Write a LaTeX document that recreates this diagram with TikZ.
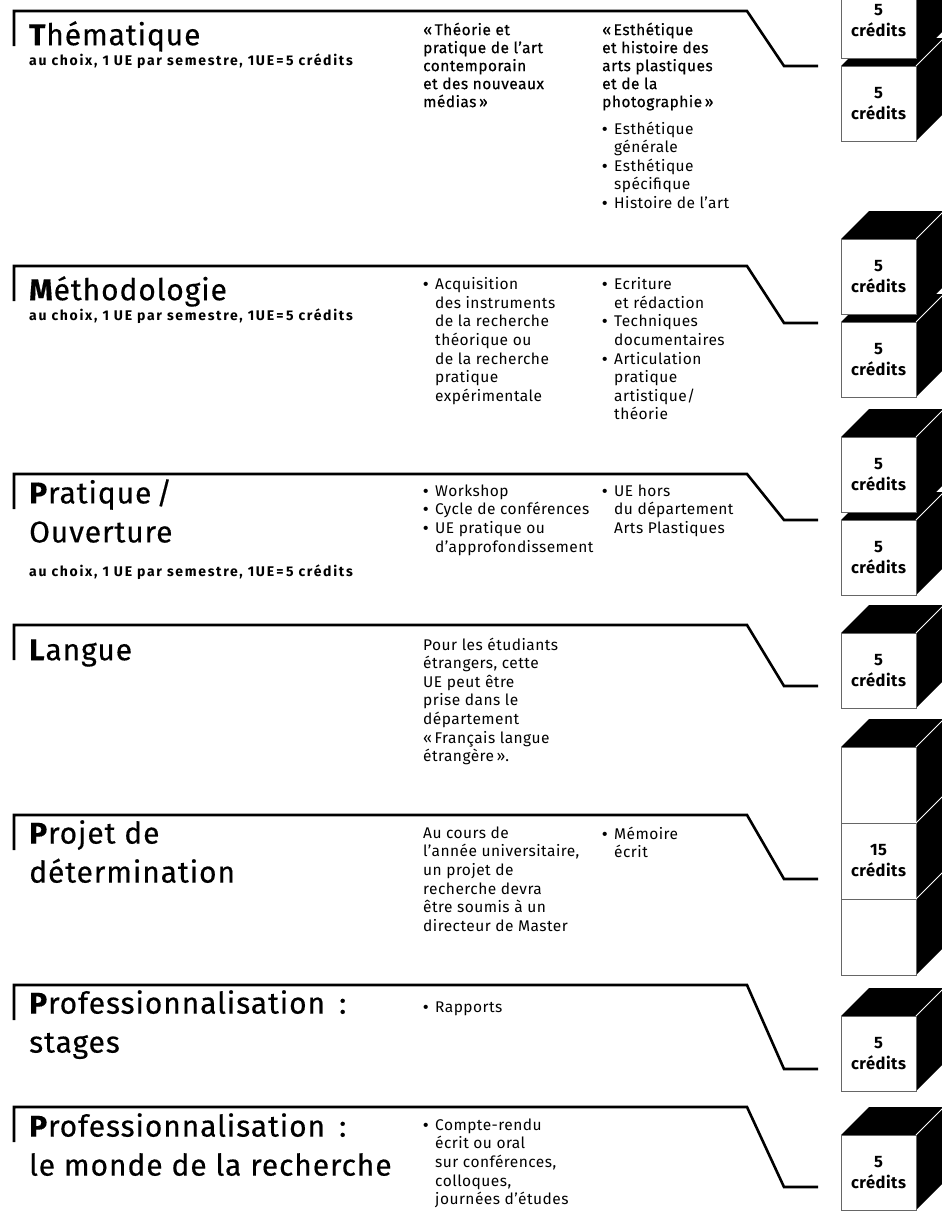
\documentclass[tikz,border=0pt]{standalone}
\usepackage{fontspec}
\setmainfont{Fira Sans}[LetterSpace=3]
\newfontfamily\medfont[FakeBold=0.5,LetterSpace=3]{Fira Sans}
\newfontfamily\titrefont[FakeBold=0.4,LetterSpace=3]{Fira Sans}
\newfontfamily\soufont[LetterSpace=12]{Fira Sans}
\newfontfamily\pucefont{Liberation Sans}

% puces et retraits
\newcommand{\puce}{\makebox[12pt][l]{\pucefont •}}
\newcommand{\retrait}{\hspace*{12pt}}

% cube de crédits : nom, x, y (haut de la face), hauteur, texte
\newcommand{\credcube}[5]{%
  \fill[black] (#2,#3) -- ++(28,-28) -- ++(75,0) -- ++(0,#4) -- ++(-28,28) -- ++(-75,0) -- cycle;
  \draw[arete] (#2+75,#3) -- ++(28,-28);
  \draw[face] (#2,#3) rectangle ++(75,#4);
  \node[credit] (#1) at (#2+37.5,#3+#4/2) {#5};
}

\tikzset{
  trait/.style={line width=2.6pt, line join=miter, line cap=butt},
  titre/.style={anchor=north west, inner sep=0pt, align=left, yshift=30pt,
    execute at begin node={\rule{0pt}{30pt}}, font=\titrefont\fontsize{30}{39}\selectfont},
  soustitre/.style={anchor=base west, inner sep=0pt, font=\soufont\bfseries\fontsize{14}{16}\selectfont},
  texte/.style={anchor=north west, inner sep=0pt, align=left, yshift=15.5pt,
    execute at begin node={\rule{0pt}{15.5pt}}, font=\fontsize{15.5}{18.6}\selectfont},
  textemed/.style={texte, font=\medfont\fontsize{15.5}{18}\selectfont},
  credit/.style={align=center, inner sep=0pt, font=\bfseries\fontsize{16.5}{21}\selectfont},
  face/.style={fill=white, draw=black!60, line width=1pt},
  arete/.style={white, line width=0.8pt},
}

\begin{document}
\begin{tikzpicture}[x=1pt,y=-1pt]
\useasboundingbox (0,0) rectangle (942,1211);

% Thématique
\draw[trait] (14,46) -- (14,11) -- (747,11) -- (784,66) -- (818,66);
\node[titre] (them) at (29,45) {\textbf{T}hématique};
\node[soustitre] (themsous) at (29,65) {au choix, 1 UE par semestre, 1UE\,=\,5 crédits};
\node[textemed] (themA) at (423,38) {«\,Théorie et\\pratique de l’art\\contemporain\\et des nouveaux\\médias\,»};
\node[textemed] (themB) at (602,38) {«\,Esthétique\\et histoire des\\arts plastiques\\et de la\\photographie\,»};
\node[texte] (themC) at (602,137) {\puce Esthétique\\\retrait générale\\\puce Esthétique\\\retrait spécifique\\\puce Histoire de l’art};
\credcube{cthemb}{841}{66}{75}{5\\crédits}
\credcube{cthema}{841}{-17}{75}{5\\crédits}

% Méthodologie
\draw[trait] (14,301) -- (14,266) -- (747,266) -- (784,323) -- (818,323);
\node[titre] (meth) at (29,300) {\textbf{M}éthodologie};
\node[soustitre] (methsous) at (29,320) {au choix, 1 UE par semestre, 1UE\,=\,5 crédits};
\node[texte] (methA) at (423,293) {\puce Acquisition\\\retrait des instruments\\\retrait de la recherche\\\retrait théorique ou\\\retrait de la recherche\\\retrait pratique\\\retrait expérimentale};
\node[texte] (methB) at (602,293) {\puce Ecriture\\\retrait et rédaction\\\puce Techniques\\\retrait documentaires\\\puce Articulation\\\retrait pratique\\\retrait artistique/\\\retrait théorie};
\credcube{cmethb}{841}{322}{75}{5\\crédits}
\credcube{cmetha}{841}{239}{75}{5\\crédits}

% Pratique / Ouverture
\draw[trait] (14,509) -- (14,474) -- (747,474) -- (784,520) -- (818,520);
\node[titre] (prat) at (29,509) {\textbf{P}ratique\,/\\Ouverture};
\node[soustitre] (pratsous) at (29,576) {au choix, 1 UE par semestre, 1UE\,=\,5 crédits};
\node[texte] (pratA) at (423,500) {\puce Workshop\\\puce Cycle de conférences\\\puce UE pratique ou\\\retrait d’approfondissement};
\node[texte] (pratB) at (602,500) {\puce UE hors\\\retrait du département\\\retrait Arts Plastiques};
\credcube{cpratb}{841}{520}{75}{5\\crédits}
\credcube{cprata}{841}{437}{75}{5\\crédits}

% Langue
\draw[trait] (14,660) -- (14,625) -- (747,625) -- (784,686) -- (818,686);
\node[titre] (lang) at (29,660) {\textbf{L}angue};
\node[texte] (langA) at (423,653) {Pour les étudiants\\étrangers, cette\\UE peut être\\prise dans le\\département\\«\,Français langue\\étrangère\,».};
\credcube{clang}{841}{633}{75}{5\\crédits}

% Projet de détermination
\draw[trait] (14,850) -- (14,815) -- (747,815) -- (784,879) -- (818,879);
\node[titre] (proj) at (29,850) {\textbf{P}rojet de\\détermination};
\node[texte] (projA) at (423,842) {Au cours de\\l’année universitaire,\\un projet de\\recherche devra\\être soumis à un\\directeur de Master};
\node[texte] (projB) at (602,842) {\puce Mémoire\\\retrait écrit};
\credcube{cproj}{841}{747}{228}{15\\crédits}
\draw[face, fill=none] (841,823) -- (916,823) (841,899) -- (916,899);
\draw[arete] (916,823) -- ++(28,-28) (916,899) -- ++(28,-28);

% Professionnalisation : stages
\draw[trait] (14,1020) -- (14,985) -- (747,985) -- (784,1069) -- (818,1069);
\node[titre] (stag) at (29,1020) {\textbf{P}rofessionnalisation\hspace{14pt}:\\stages};
\node[texte] (stagA) at (423,1012) {\puce Rapports};
\credcube{cstag}{841}{1016}{75}{5\\crédits}

% Professionnalisation : le monde de la recherche
\draw[trait] (14,1142) -- (14,1107) -- (747,1107) -- (784,1187) -- (818,1187);
\node[titre] (rech) at (29,1143) {\textbf{P}rofessionnalisation\hspace{14pt}:\\le monde de la recherche};
\node[texte] (rechA) at (423,1134) {\puce Compte-rendu\\\retrait écrit ou oral\\\retrait sur conférences,\\\retrait colloques,\\\retrait journées d’études};
\credcube{crech}{841}{1135}{75}{5\\crédits}

\end{tikzpicture}
\end{document}
